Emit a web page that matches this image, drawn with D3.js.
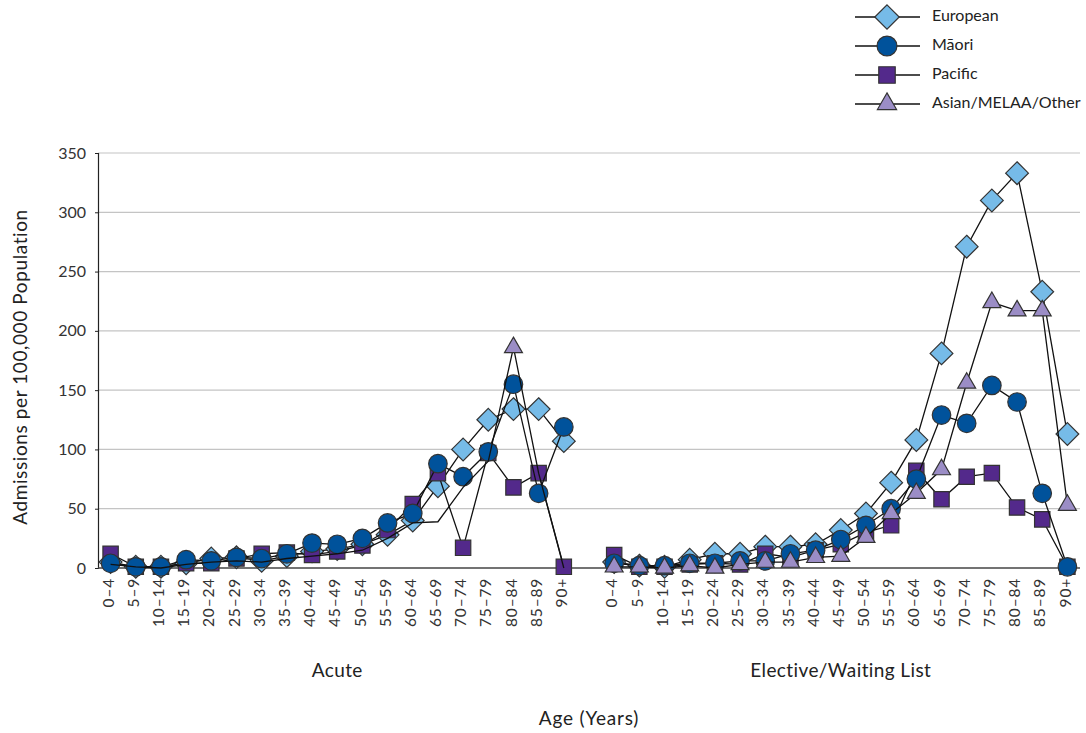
<!DOCTYPE html>
<html><head><meta charset="utf-8">
<script src="https://cdn.jsdelivr.net/npm/d3@7"></script>
<style>body{margin:0;background:#fff;} text{font-family:Lato, "Open Sans", sans-serif;}</style>
</head><body><svg id="c" width="1086" height="733"></svg>
<script>
const ageGroups = ["0–4","5–9","10–14","15–19","20–24","25–29","30–34","35–39","40–44","45–49","50–54","55–59","60–64","65–69","70–74","75–79","80–84","85–89","90+"];
const panels = ["Acute","Elective/Waiting List"];
const yTicks = [0,50,100,150,200,250,300,350];
const seriesNames = ["European","Pacific","Māori","Asian/MELAA/Other"];
const legendOrder = ["European","Māori","Pacific","Asian/MELAA/Other"];

const europeanAcute   = [5,1,1,4,8,9,6,10,14,16,20,28,40,69,100,125,134,134,107];
const maoriAcute      = [4,1,1,7,6,9,8,12,21,20,25,38,46,88,77,98,155,63,119];
const pacificAcute    = [12,1,1,4,4,8,12,13,11,14,19,32,54,80,17,97,68,80,1];
const asianAcute      = [3,1,0,3,5,6,5,8,10,12,15,25,38,39,68,90,186,80,0];
// in the Acute panel only the 80–84 Asian/MELAA/Other point carries a marker
const asianAcuteMarked = ["80–84"];

const europeanElective = [5,2,1,7,12,12,18,18,20,32,46,72,108,181,271,310,333,233,113];
const maoriElective    = [4,2,2,4,4,6,6,12,15,24,36,50,75,129,122,154,140,63,1];
const pacificElective  = [11,1,1,3,4,3,12,9,15,20,30,36,82,58,77,80,51,41,1];
const asianElective    = [1,1,0,2,0,3,5,5,9,10,26,46,63,83,156,224,217,217,53];

const colors = {"European":"#76bbe8","Māori":"#00529b","Pacific":"#53298b","Asian/MELAA/Other":"#9b8dc6"};
const symbols = {"European":d3.symbolDiamond2,"Māori":d3.symbolCircle,"Pacific":d3.symbolSquare2,"Asian/MELAA/Other":d3.symbolTriangle2};
const symSize = {"European":330,"Māori":270,"Pacific":300,"Asian/MELAA/Other":230};
const data = {
  "European":[europeanAcute,europeanElective],
  "Māori":[maoriAcute,maoriElective],
  "Pacific":[pacificAcute,pacificElective],
  "Asian/MELAA/Other":[asianAcute,asianElective]
};
const marked = (name,pi,age) => !(name==="Asian/MELAA/Other" && pi===0 && !asianAcuteMarked.includes(age));

const svg = d3.select("#c");
const keys = [...ageGroups.map(a=>"A|"+a), "gap", ...ageGroups.map(a=>"E|"+a)];
const x = d3.scaleBand().domain(keys).range([98,1080]);
const y = d3.scaleLinear().domain([0,350]).range([568,153]);
const cx = k => x(k)+x.bandwidth()/2;

// gridlines
svg.append("g").selectAll("line").data(yTicks.filter(t=>t>0)).join("line")
  .attr("x1",98).attr("x2",1080).attr("y1",d=>y(d)).attr("y2",d=>y(d))
  .attr("stroke","#c4c4c4").attr("stroke-width",1.2);

// y axis
const ya = svg.append("g").attr("transform","translate(98,0)")
  .call(d3.axisLeft(y).tickValues(yTicks).tickSize(3).tickPadding(9));
ya.select(".domain").attr("stroke","#222").attr("stroke-width",1.2);
ya.selectAll(".tick line").attr("stroke","#222");
ya.selectAll("text").attr("font-size",16).attr("fill","#333").attr("font-family","Lato");

// x axis
const xa = svg.append("g").attr("transform","translate(0,568)")
  .call(d3.axisBottom(x).tickValues(keys.filter(k=>k!=="gap")).tickSize(0).tickFormat(k=>k.split("|")[1]));
xa.select(".domain").attr("stroke","#444").attr("stroke-width",1.5).attr("d","M98,0H1080");
xa.selectAll("text").attr("font-size",15.5).attr("letter-spacing","0.8px").attr("fill","#333").attr("font-family","Lato")
  .attr("text-anchor","end").attr("transform","rotate(-90)").attr("dx","-10").attr("dy","-0.05em").attr("y",0).attr("x",0)
  .attr("dominant-baseline","middle");

// series
const line = d3.line().x(d=>cx(d.k)).y(d=>y(d.v));
seriesNames.forEach(name=>{
  const g = svg.append("g");
  const pts = [];
  data[name].forEach((arr,pi)=>{
    const p = arr.map((v,i)=>({k:(pi===0?"A|":"E|")+ageGroups[i], v, m:marked(name,pi,ageGroups[i])}));
    pts.push(p);
    g.append("path").attr("d",line(p)).attr("fill","none").attr("stroke","#111").attr("stroke-width",1.3);
  });
  pts.flat().filter(d=>d.m).forEach(d=>{
    g.append("path").attr("d",d3.symbol(symbols[name],symSize[name])())
      .attr("transform",`translate(${cx(d.k)},${y(d.v)})`)
      .attr("fill",colors[name]).attr("stroke","#333").attr("stroke-width",1.2);
  });
});

// panel labels
svg.append("g").selectAll("text").data(panels).join("text")
  .attr("x",(d,i)=>{const a=cx((i===0?"A|":"E|")+ageGroups[0]), b=cx((i===0?"A|":"E|")+ageGroups[18]); return (a+b)/2;})
  .attr("y",677).attr("text-anchor","middle").attr("font-size",19).attr("letter-spacing","0.4px").attr("fill","#222").text(d=>d);

svg.append("text").attr("x",589).attr("y",725).attr("text-anchor","middle").attr("font-size",19).attr("letter-spacing","0.8px").attr("fill","#222").text("Age (Years)");
svg.append("text").attr("transform","translate(27,367) rotate(-90)").attr("text-anchor","middle").attr("font-size",19).attr("letter-spacing","0.6px").attr("fill","#222").text("Admissions per 100,000 Population");

// legend
const lg = svg.append("g");
legendOrder.forEach((name,i)=>{
  const yy = 17 + i*29;
  lg.append("line").attr("x1",855).attr("x2",920).attr("y1",yy).attr("y2",yy).attr("stroke","#111").attr("stroke-width",1.3);
  lg.append("path").attr("d",d3.symbol(symbols[name],symSize[name]*1.15)()).attr("transform",`translate(887,${yy})`)
    .attr("fill",colors[name]).attr("stroke","#333").attr("stroke-width",1.2);
  lg.append("text").attr("x",932).attr("y",yy).attr("dominant-baseline","middle").attr("font-size",16).attr("fill","#222").text(name);
});
</script></body></html>
